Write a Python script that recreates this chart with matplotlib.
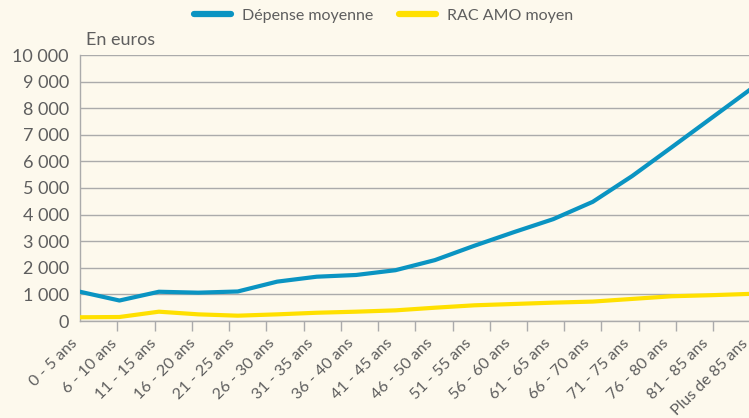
import matplotlib
matplotlib.use("Agg")
import matplotlib.pyplot as plt
from matplotlib.ticker import FuncFormatter
import numpy as np

# tranches d'age
categories = ["0 - 5 ans", "6 - 10 ans", "11 - 15 ans", "16 - 20 ans", "21 - 25 ans",
              "26 - 30 ans", "31 - 35 ans", "36 - 40 ans", "41 - 45 ans", "46 - 50 ans",
              "51 - 55 ans", "56 - 60 ans", "61 - 65 ans", "66 - 70 ans", "71 - 75 ans",
              "76 - 80 ans", "81 - 85 ans", "Plus de 85 ans"]
depense_moyenne = [1100, 770, 1100, 1065, 1110, 1480, 1665, 1730, 1910, 2290,
                   2830, 3340, 3830, 4480, 5450, 6530, 7620, 8710]
rac_amo_moyen = [140, 150, 350, 250, 200, 250, 310, 350, 400, 500,
                 590, 640, 690, 730, 830, 930, 970, 1020]
yticks = list(range(0, 10001, 1000))

bg = "#fdf9ed"
grey_txt = "#5e5e5e"
grid_col = "#ababab"

plt.rcParams['font.family'] = ['Lato', 'DejaVu Sans']

fig = plt.figure(figsize=(7.49, 4.18), dpi=100, facecolor=bg)
ax = fig.add_axes([80 / 749, 1 - 321 / 418, 670.5 / 749, 266 / 418], facecolor=bg)

x = np.arange(len(categories))
ax.plot(x, depense_moyenne, color="#0a94c2", lw=3.0, label="Dépense moyenne",
        solid_capstyle="round", solid_joinstyle="round", zorder=3)
ax.plot(x, rac_amo_moyen, color="#ffe000", lw=3.0, label="RAC AMO moyen",
        solid_capstyle="round", solid_joinstyle="round", zorder=3)

ax.set_xlim(0, len(categories) - 1)
ax.set_ylim(0, 10000)
ax.set_yticks(yticks)
ax.yaxis.set_major_formatter(FuncFormatter(lambda v, p: f"{v:,.0f}".replace(",", " ")))
ax.grid(axis="y", color=grid_col, lw=1.0)
ax.set_axisbelow(True)

for s in ["top", "right"]:
    ax.spines[s].set_visible(False)
for s in ["left", "bottom"]:
    ax.spines[s].set_color(grid_col)
    ax.spines[s].set_linewidth(1.0)

ax.tick_params(axis="y", length=0, pad=8, labelsize=13, labelcolor=grey_txt)
ax.set_xticks(x)
ax.set_xticklabels(categories, rotation=45, ha="right", fontsize=11.5, color=grey_txt)
ax.tick_params(axis="x", which="major", length=0, pad=11)
ax.set_xticks(np.linspace(0, len(categories) - 1, len(categories) + 1), minor=True)
ax.tick_params(axis="x", which="minor", length=7, width=1.0, color=grid_col)

fig.text(86 / 749, 1 - 40 / 418, "En euros", fontsize=13, color=grey_txt,
         va="center", ha="left")

leg = fig.legend(loc="center", bbox_to_anchor=(0.512, 0.962), ncol=2, frameon=False,
                 fontsize=11.5, handlelength=2.3, handletextpad=0.7, columnspacing=1.6)
for t in leg.get_texts():
    t.set_color(grey_txt)
for h in leg.get_lines():
    h.set_linewidth(4.5)
    h.set_solid_capstyle("round")

fig.savefig("out.png", dpi=100, facecolor=bg)
